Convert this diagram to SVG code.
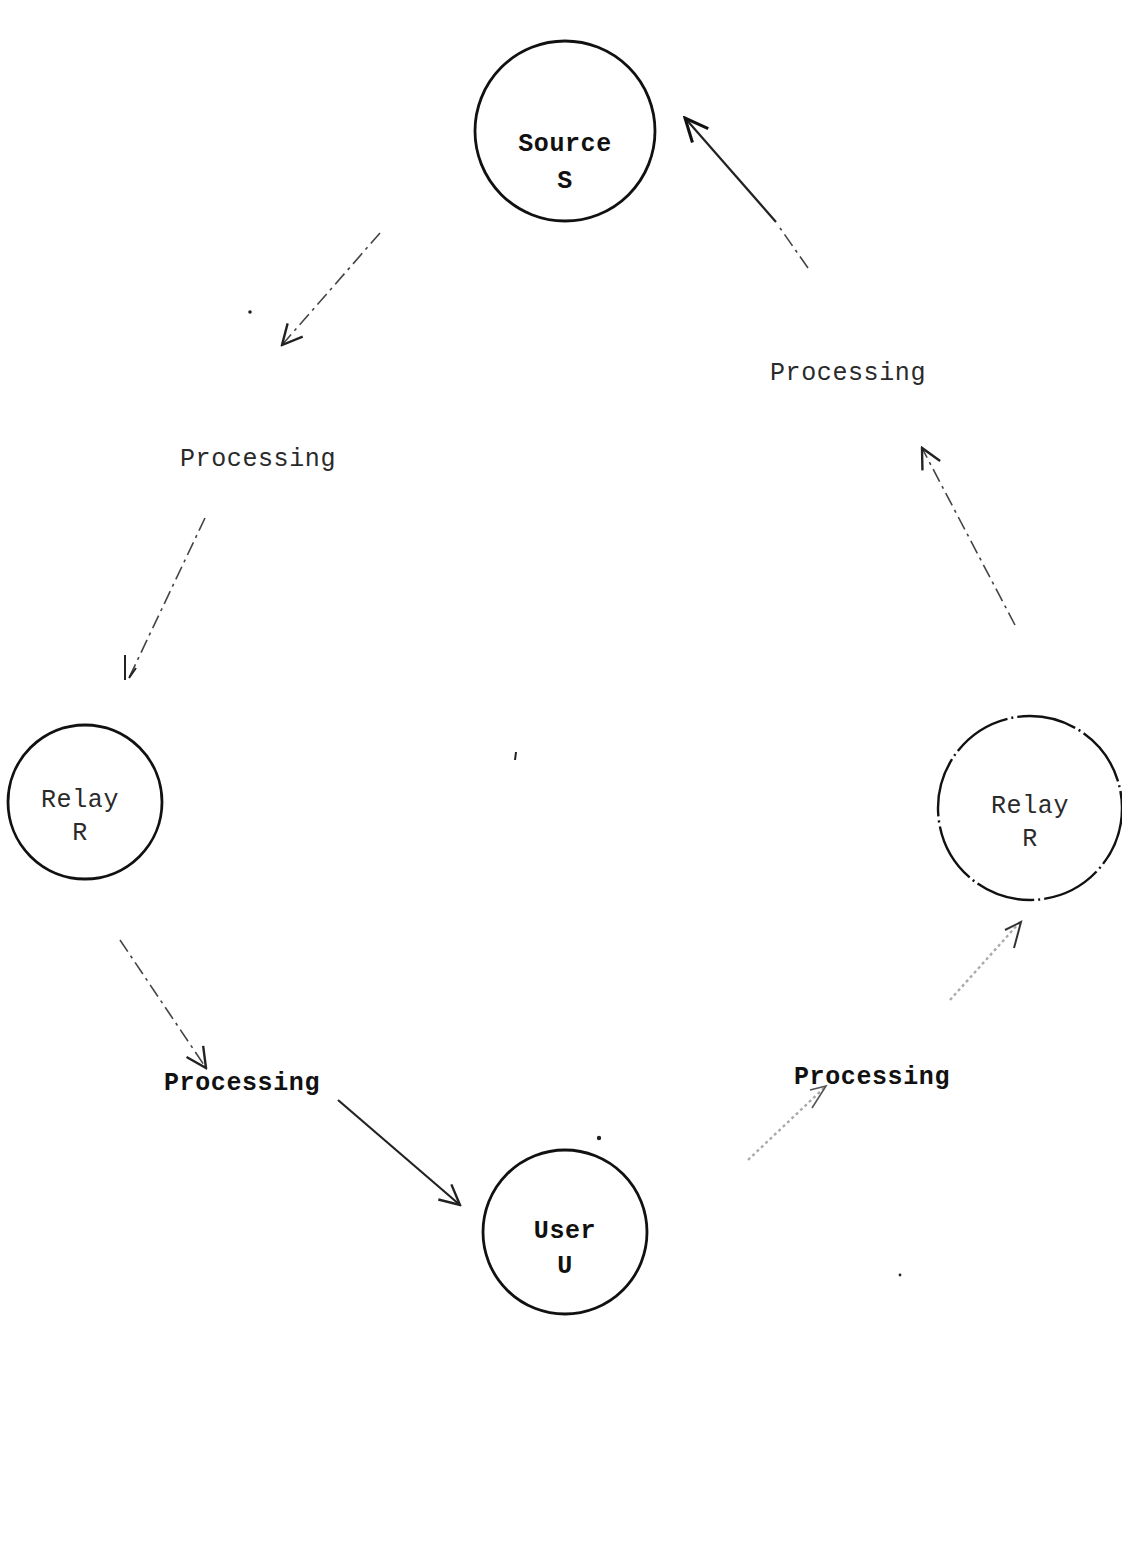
<svg xmlns="http://www.w3.org/2000/svg" width="1122" height="1564" viewBox="0 0 1122 1564">
  <style>
    .ring { fill: none; stroke: #111; stroke-width: 2.8; }
    .ring-broken { fill: none; stroke: #111; stroke-width: 2.4; stroke-dasharray: 60 4 2 4; }
    .label { font-family: "Liberation Mono", "DejaVu Sans Mono", monospace; font-size: 25px; letter-spacing: 0.6px; fill: #2a2a2a; text-anchor: middle; }
    .bold { font-weight: bold; fill: #111; }
    .flow { fill: none; stroke: #444; stroke-width: 1.6; stroke-dasharray: 14 5 3 5; }
    .flow-faint { fill: none; stroke: #aaa; stroke-width: 2.4; stroke-dasharray: 3 3; }
    .flow-solid { fill: none; stroke: #222; stroke-width: 2.2; }
    .speck { fill: #222; }
  </style>
  <defs>
    <marker id="head" viewBox="0 0 12 12" refX="11" refY="6" markerWidth="24" markerHeight="24" markerUnits="userSpaceOnUse" orient="auto">
      <path d="M1,1 L11,6 L1,11" fill="none" stroke="#222" stroke-width="1.2"/>
    </marker>
    <marker id="head-bold" viewBox="0 0 12 12" refX="11" refY="6" markerWidth="28" markerHeight="28" markerUnits="userSpaceOnUse" orient="auto">
      <path d="M1,1.5 L11,6 L1,10.5" fill="none" stroke="#111" stroke-width="1.3"/>
    </marker>
  </defs>

  <rect width="1122" height="1564" fill="#fff"/>

  <!-- nodes -->
  <g id="source">
    <circle class="ring" cx="565" cy="131" r="90"/>
    <text class="label bold" x="565" y="151">Source</text>
    <text class="label bold" x="565" y="188">S</text>
  </g>
  <g id="relay-left">
    <circle class="ring" cx="85" cy="802" r="77"/>
    <text class="label" x="80" y="807">Relay</text>
    <text class="label" x="80" y="840">R</text>
  </g>
  <g id="relay-right">
    <circle class="ring-broken" cx="1030" cy="808" r="92"/>
    <text class="label" x="1030" y="813">Relay</text>
    <text class="label" x="1030" y="846">R</text>
  </g>
  <g id="user">
    <circle class="ring" cx="565" cy="1232" r="82"/>
    <text class="label bold" x="565" y="1238">User</text>
    <text class="label bold" x="565" y="1273">U</text>
  </g>

  <!-- stage labels -->
  <g id="processing-1"><text class="label" x="258" y="466">Processing</text></g>
  <g id="processing-2"><text class="label bold" x="242" y="1090">Processing</text></g>
  <g id="processing-3"><text class="label bold" x="872" y="1084">Processing</text></g>
  <g id="processing-4"><text class="label" x="848" y="380">Processing</text></g>

  <!-- connectors -->
  <g id="connectors">
    <line class="flow" x1="380" y1="233" x2="282" y2="345" marker-end="url(#head)"/>
    <line class="flow" x1="205" y1="518" x2="128" y2="680" stroke="#777"/>
    <path d="M125,655 L125,680 M136,668 L129,678" fill="none" stroke="#222" stroke-width="2"/>
    <line class="flow" x1="120" y1="940" x2="206" y2="1068" marker-end="url(#head)"/>
    <line class="flow-solid" x1="338" y1="1100" x2="460" y2="1205" marker-end="url(#head)"/>
    <line class="flow-faint" x1="748" y1="1160" x2="825" y2="1087"/>
    <path d="M810,1090 L826,1086 L812,1108" fill="none" stroke="#555" stroke-width="1.6"/>
    <line class="flow-faint" x1="950" y1="1000" x2="1020" y2="922"/>
    <path d="M1005,930 L1021,922 L1014,948" fill="none" stroke="#333" stroke-width="2"/>
    <line class="flow" x1="1015" y1="625" x2="922" y2="448" marker-end="url(#head)"/>
    <line class="flow" x1="808" y1="268" x2="780" y2="228"/>
    <line class="flow-solid" x1="776" y1="222" x2="685" y2="118" stroke-width="3" marker-end="url(#head-bold)"/>
  </g>

  <!-- loose specks on the sheet -->
  <circle class="speck" cx="250" cy="312" r="1.8"/>
  <path d="M516,752 L515,760" stroke="#222" stroke-width="2"/>
  <circle class="speck" cx="599" cy="1138" r="2.2"/>
  <circle class="speck" cx="900" cy="1275" r="1.4"/>
</svg>
